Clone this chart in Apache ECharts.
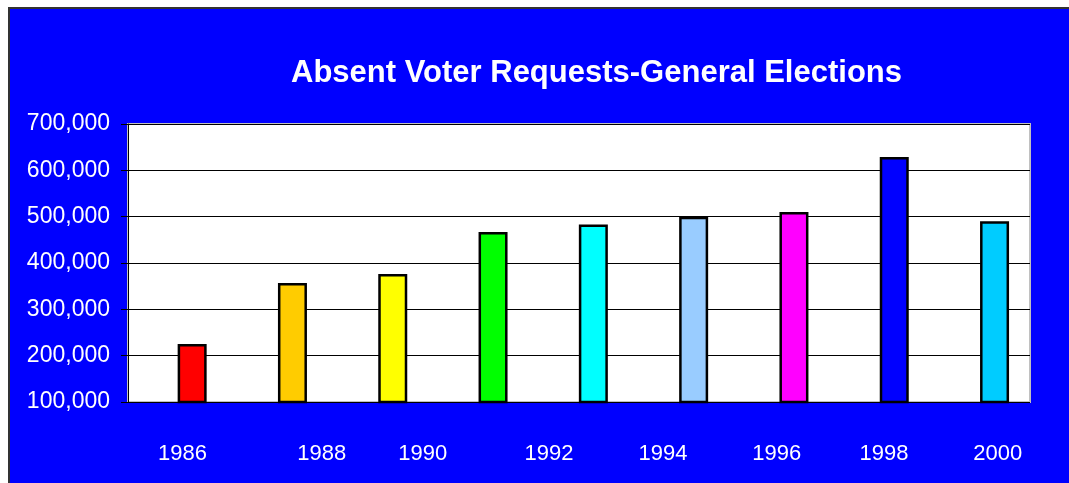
<!DOCTYPE html>
<html>
<head>
<meta charset="utf-8">
<title>Absent Voter Requests-General Elections</title>
<script src="https://cdn.jsdelivr.net/npm/echarts@6/dist/echarts.min.js"></script>
<style>
  html, body { margin: 0; padding: 0; background: #ffffff; }
  #chart { width: 1069px; height: 483px; }
</style>
</head>
<body>
<div id="chart"></div>
<script>
// Absent voter requests per general election (nine bars)
const barSlots = ['1', '2', '3', '4', '5', '6', '7', '8', '9'];
const requests = [225000, 357000, 376000, 467000, 483000, 500000, 510000, 629000, 490000];
const barColors = ['#FF0000', '#FFCC00', '#FFFF00', '#00FF00', '#00FFFF',
                   '#99CCFF', '#FF00FF', '#0000FF', '#00CCFF'];
// Year captions printed under the plot
const yearLabels = ['1986', '1988', '1990', '1992', '1994', '1996', '1998', '2000'];
// Value axis ticks
const yTicks = [100000, 200000, 300000, 400000, 500000, 600000, 700000];

const FONT = 'Liberation Sans, Arial, sans-serif';
const yearX = [182.5, 321.7, 422.8, 549, 663, 776.7, 884, 997.7];

const chart = echarts.init(document.getElementById('chart'), null, { renderer: 'canvas' });

const yMin = yTicks[0];
const yMax = yTicks[yTicks.length - 1];
const yStep = yTicks[1] - yTicks[0];

chart.setOption({
  backgroundColor: '#ffffff',
  animation: false,
  title: {
    text: 'Absent Voter Requests-General Elections',
    left: 591.5,
    textAlign: 'center',
    top: 53,
    textStyle: { color: '#ffffff', fontFamily: FONT, fontWeight: 'bold', fontSize: 31 }
  },
  graphic: [
    {
      type: 'rect',
      z: -100,
      shape: { x: 9, y: 8, width: 1080, height: 500 },
      style: { fill: '#0000FF', stroke: '#333333', lineWidth: 2 }
    }
  ].concat(yearLabels.map((t, i) => ({
    type: 'text',
    x: yearX[i],
    y: 454,
    style: {
      text: t, fill: '#ffffff', font: '22px ' + FONT,
      textAlign: 'center', textVerticalAlign: 'middle'
    }
  }))),
  grid: [
    { left: 128, right: 39, top: 124, bottom: 81, show: true,
      backgroundColor: '#ffffff', borderColor: '#c0c0c0', borderWidth: 2 },
    { left: 142, right: 24.3, top: 124, bottom: 81 }
  ],
  xAxis: [
    { gridIndex: 0, type: 'category', data: barSlots, show: false },
    { gridIndex: 1, type: 'category', data: barSlots, show: false }
  ],
  yAxis: [
    {
      gridIndex: 0, type: 'value', min: yMin, max: yMax, interval: yStep,
      axisLine: { show: true, lineStyle: { color: '#000000', width: 1 } },
      axisTick: { show: true, length: 7, lineStyle: { color: '#000000' } },
      axisLabel: {
        color: '#ffffff', fontFamily: FONT, fontSize: 23, margin: 18,
        formatter: v => v.toLocaleString('en-US')
      },
      splitLine: { show: true, lineStyle: { color: '#000000', width: 1 } }
    },
    { gridIndex: 1, type: 'value', min: yMin, max: yMax, interval: yStep, show: false,
      splitLine: { show: false } }
  ],
  series: [
    {
      type: 'bar',
      xAxisIndex: 1,
      yAxisIndex: 1,
      barWidth: 29,
      data: requests.map((v, i) => ({
        value: v,
        itemStyle: { color: barColors[i], borderColor: '#000000', borderWidth: 2.5 }
      }))
    }
  ]
});
</script>
</body>
</html>
